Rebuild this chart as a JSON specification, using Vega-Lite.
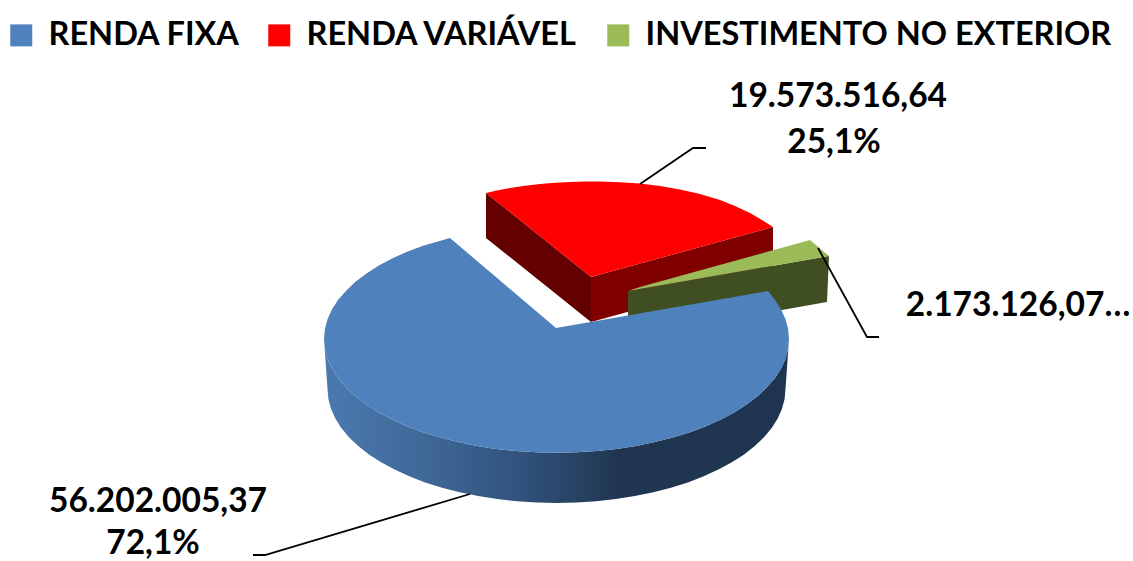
{
"$schema":"https://vega.github.io/schema/vega-lite/v6.json",
"width":1133,"height":561,
"autosize":"none",
"padding":0,
"background":"white",
"view":{"stroke":null},
"resolve":{"scale":{"color":"independent"}},
"datasets":{
"faces":[
{"face":"rv_esq","k":1,"x":486,"y":193},{"face":"rv_esq","k":2,"x":591,"y":277},{"face":"rv_esq","k":3,"x":591,"y":322},{"face":"rv_esq","k":4,"x":486,"y":238},
{"face":"rv_dir","k":1,"x":591,"y":277},{"face":"rv_dir","k":2,"x":773,"y":227},{"face":"rv_dir","k":3,"x":773,"y":272},{"face":"rv_dir","k":4,"x":591,"y":322},
{"face":"ie_fr","k":1,"x":628,"y":291},{"face":"ie_fr","k":2,"x":829,"y":256},{"face":"ie_fr","k":3,"x":827,"y":302},{"face":"ie_fr","k":4,"x":628,"y":337}
],
"side":[
{"k":1,"x":789,"y":339},{"k":1.5,"x":788.1,"y":348.9},{"k":2,"x":785.5,"y":358.8},{"k":2.5,"x":781.1,"y":368.5},{"k":3,"x":775,"y":377.9},{"k":3.5,"x":767.1,"y":387.1},{"k":4,"x":757.9,"y":395.9},{"k":4.5,"x":746.9,"y":404.3},{"k":5,"x":734.6,"y":412.2},{"k":5.5,"x":720.9,"y":419.5},{"k":6,"x":706,"y":426.2},{"k":6.5,"x":690,"y":432.2},{"k":7,"x":672.8,"y":437.6},{"k":7.5,"x":654.8,"y":442.1},{"k":8,"x":636,"y":446},{"k":8.5,"x":616.7,"y":448.9},{"k":9,"x":597,"y":451.1},{"k":9.5,"x":576.7,"y":452.3},{"k":10,"x":556.5,"y":452.8},{"k":10.5,"x":536.3,"y":452.3},{"k":11,"x":516,"y":451.1},{"k":11.5,"x":496.3,"y":448.9},{"k":12,"x":477,"y":446},{"k":12.5,"x":458.2,"y":442.1},{"k":13,"x":440.3,"y":437.6},{"k":13.5,"x":423,"y":432.2},{"k":14,"x":407,"y":426.2},{"k":14.5,"x":392.1,"y":419.5},{"k":15,"x":378.4,"y":412.2},{"k":15.5,"x":366.1,"y":404.3},{"k":16,"x":355.1,"y":395.9},{"k":16.5,"x":345.9,"y":387.1},{"k":17,"x":338,"y":377.9},{"k":17.5,"x":331.9,"y":368.5},{"k":18,"x":327.5,"y":358.8},{"k":18.5,"x":324.9,"y":348.9},{"k":19,"x":324,"y":339},
{"k":20,"x":327.5,"y":389},{"k":20.5,"x":328.4,"y":398.9},{"k":21,"x":331,"y":408.8},{"k":21.5,"x":335.3,"y":418.5},{"k":22,"x":341.3,"y":428},{"k":22.5,"x":349,"y":437.2},{"k":23,"x":358.2,"y":446},{"k":23.5,"x":368.9,"y":454.4},{"k":24,"x":381.1,"y":462.3},{"k":24.5,"x":394.6,"y":469.6},{"k":25,"x":409.3,"y":476.3},{"k":25.5,"x":425.1,"y":482.4},{"k":26,"x":442,"y":487.7},{"k":26.5,"x":459.6,"y":492.3},{"k":27,"x":478.2,"y":496.1},{"k":27.5,"x":497.2,"y":499.1},{"k":28,"x":516.7,"y":501.3},{"k":28.5,"x":536.6,"y":502.5},{"k":29,"x":556.5,"y":503},{"k":29.5,"x":576.4,"y":502.5},{"k":30,"x":596.3,"y":501.3},{"k":30.5,"x":615.8,"y":499.1},{"k":31,"x":634.8,"y":496.1},{"k":31.5,"x":653.4,"y":492.3},{"k":32,"x":671,"y":487.7},{"k":32.5,"x":687.9,"y":482.4},{"k":33,"x":703.7,"y":476.3},{"k":33.5,"x":718.4,"y":469.6},{"k":34,"x":731.9,"y":462.3},{"k":34.5,"x":744.1,"y":454.4},{"k":35,"x":754.8,"y":446},{"k":35.5,"x":764,"y":437.2},{"k":36,"x":771.7,"y":428},{"k":36.5,"x":777.7,"y":418.5},{"k":37,"x":782,"y":408.8},{"k":37.5,"x":784.6,"y":398.9},{"k":38,"x":785.5,"y":389}
],
"tops":[
{"serie":"RENDA VARIÁVEL","k":1,"x":591,"y":277},{"serie":"RENDA VARIÁVEL","k":2,"x":486,"y":193},{"serie":"RENDA VARIÁVEL","k":3,"x":498,"y":190.3},{"serie":"RENDA VARIÁVEL","k":4,"x":510,"y":188},{"serie":"RENDA VARIÁVEL","k":5,"x":525,"y":185.8},{"serie":"RENDA VARIÁVEL","k":6,"x":540,"y":184},{"serie":"RENDA VARIÁVEL","k":7,"x":555,"y":182.8},{"serie":"RENDA VARIÁVEL","k":8,"x":570,"y":182},{"serie":"RENDA VARIÁVEL","k":9,"x":585,"y":181.6},{"serie":"RENDA VARIÁVEL","k":10,"x":600,"y":181.5},{"serie":"RENDA VARIÁVEL","k":11,"x":620,"y":182.2},{"serie":"RENDA VARIÁVEL","k":12,"x":640,"y":183.5},{"serie":"RENDA VARIÁVEL","k":13,"x":660,"y":186},{"serie":"RENDA VARIÁVEL","k":14,"x":680,"y":189.5},{"serie":"RENDA VARIÁVEL","k":15,"x":700,"y":194},{"serie":"RENDA VARIÁVEL","k":16,"x":720,"y":200},{"serie":"RENDA VARIÁVEL","k":17,"x":735,"y":206},{"serie":"RENDA VARIÁVEL","k":18,"x":750,"y":213},{"serie":"RENDA VARIÁVEL","k":19,"x":762,"y":220},{"serie":"RENDA VARIÁVEL","k":20,"x":773,"y":227},
{"serie":"INVESTIMENTO NO EXTERIOR","k":1,"x":628,"y":291},{"serie":"INVESTIMENTO NO EXTERIOR","k":2,"x":640,"y":287},{"serie":"INVESTIMENTO NO EXTERIOR","k":3,"x":810,"y":240},{"serie":"INVESTIMENTO NO EXTERIOR","k":4,"x":829,"y":256},
{"serie":"RENDA FIXA","k":1,"x":556,"y":328},{"serie":"RENDA FIXA","k":2,"x":450,"y":238},{"serie":"RENDA FIXA","k":2.5,"x":423,"y":245.8},{"serie":"RENDA FIXA","k":3,"x":407,"y":251.8},{"serie":"RENDA FIXA","k":3.5,"x":392.1,"y":258.5},{"serie":"RENDA FIXA","k":4,"x":378.4,"y":265.8},{"serie":"RENDA FIXA","k":4.5,"x":366.1,"y":273.7},{"serie":"RENDA FIXA","k":5,"x":355.1,"y":282.1},{"serie":"RENDA FIXA","k":5.5,"x":345.9,"y":290.9},{"serie":"RENDA FIXA","k":6,"x":338,"y":300.1},{"serie":"RENDA FIXA","k":6.5,"x":331.9,"y":309.5},{"serie":"RENDA FIXA","k":7,"x":327.5,"y":319.2},{"serie":"RENDA FIXA","k":7.5,"x":324.9,"y":329.1},{"serie":"RENDA FIXA","k":8,"x":324,"y":339},{"serie":"RENDA FIXA","k":8.5,"x":324.9,"y":348.9},{"serie":"RENDA FIXA","k":9,"x":327.5,"y":358.8},{"serie":"RENDA FIXA","k":9.5,"x":331.9,"y":368.5},{"serie":"RENDA FIXA","k":10,"x":338,"y":377.9},{"serie":"RENDA FIXA","k":10.5,"x":345.9,"y":387.1},{"serie":"RENDA FIXA","k":11,"x":355.1,"y":395.9},{"serie":"RENDA FIXA","k":11.5,"x":366.1,"y":404.3},{"serie":"RENDA FIXA","k":12,"x":378.4,"y":412.2},{"serie":"RENDA FIXA","k":12.5,"x":392.1,"y":419.5},{"serie":"RENDA FIXA","k":13,"x":407,"y":426.2},{"serie":"RENDA FIXA","k":13.5,"x":423,"y":432.2},{"serie":"RENDA FIXA","k":14,"x":440.3,"y":437.6},{"serie":"RENDA FIXA","k":14.5,"x":458.2,"y":442.1},{"serie":"RENDA FIXA","k":15,"x":477,"y":446},{"serie":"RENDA FIXA","k":15.5,"x":496.3,"y":448.9},{"serie":"RENDA FIXA","k":16,"x":516,"y":451.1},{"serie":"RENDA FIXA","k":16.5,"x":536.3,"y":452.3},{"serie":"RENDA FIXA","k":17,"x":556.5,"y":452.8},{"serie":"RENDA FIXA","k":17.5,"x":576.7,"y":452.3},{"serie":"RENDA FIXA","k":18,"x":597,"y":451.1},{"serie":"RENDA FIXA","k":18.5,"x":616.7,"y":448.9},{"serie":"RENDA FIXA","k":19,"x":636,"y":446},{"serie":"RENDA FIXA","k":19.5,"x":654.8,"y":442.1},{"serie":"RENDA FIXA","k":20,"x":672.8,"y":437.6},{"serie":"RENDA FIXA","k":20.5,"x":690,"y":432.2},{"serie":"RENDA FIXA","k":21,"x":706,"y":426.2},{"serie":"RENDA FIXA","k":21.5,"x":720.9,"y":419.5},{"serie":"RENDA FIXA","k":22,"x":734.6,"y":412.2},{"serie":"RENDA FIXA","k":22.5,"x":746.9,"y":404.3},{"serie":"RENDA FIXA","k":23,"x":757.9,"y":395.9},{"serie":"RENDA FIXA","k":23.5,"x":767.1,"y":387.1},{"serie":"RENDA FIXA","k":24,"x":775,"y":377.9},{"serie":"RENDA FIXA","k":24.5,"x":781.1,"y":368.5},{"serie":"RENDA FIXA","k":25,"x":785.5,"y":358.8},{"serie":"RENDA FIXA","k":25.5,"x":788.1,"y":348.9},{"serie":"RENDA FIXA","k":26,"x":789,"y":339},{"serie":"RENDA FIXA","k":26.5,"x":788.1,"y":329.1},{"serie":"RENDA FIXA","k":27,"x":785.5,"y":319.2},{"serie":"RENDA FIXA","k":27.5,"x":781.1,"y":309.5},{"serie":"RENDA FIXA","k":28,"x":775,"y":300.1},{"serie":"RENDA FIXA","k":29,"x":768,"y":291}
],
"leaders":[
{"serie":"RENDA VARIÁVEL","k":1,"x":640,"y":184},{"serie":"RENDA VARIÁVEL","k":2,"x":693,"y":148},{"serie":"RENDA VARIÁVEL","k":3,"x":706,"y":148},
{"serie":"INVESTIMENTO NO EXTERIOR","k":1,"x":818,"y":248},{"serie":"INVESTIMENTO NO EXTERIOR","k":2,"x":867,"y":337},{"serie":"INVESTIMENTO NO EXTERIOR","k":3,"x":879,"y":337},
{"serie":"RENDA FIXA","k":1,"x":470,"y":494},{"serie":"RENDA FIXA","k":2,"x":265,"y":555},{"serie":"RENDA FIXA","k":3,"x":253,"y":555}
],
"labels":[
{"texto":"19.573.516,64","x":838,"y":97},{"texto":"25,1%","x":834,"y":143},
{"texto":"2.173.126,07…","x":1018,"y":306},
{"texto":"56.202.005,37","x":158,"y":502},{"texto":"72,1%","x":153,"y":544}
]
},
"encoding":{
"x":{"field":"x","type":"quantitative","scale":{"domain":[0,1133],"nice":false,"zero":false},"axis":null},
"y":{"field":"y","type":"quantitative","scale":{"domain":[0,561],"reverse":true,"nice":false,"zero":false},"axis":null}
},
"layer":[
{"data":{"name":"faces"},
"mark":{"type":"line","filled":true,"strokeWidth":0},
"encoding":{"order":{"field":"k"},"color":{"field":"face","type":"nominal","legend":null,"scale":{"domain":["rv_esq","rv_dir","ie_fr"],"range":["#640000","#800000","#3f4f22"]}}}},
{"data":{"name":"side"},
"mark":{"type":"line","filled":true,"strokeWidth":0,"fill":{"gradient":"linear","x1":0,"y1":0,"x2":1,"y2":0,"stops":[{"offset":0,"color":"#4b79b0"},{"offset":0.22,"color":"#3f6897"},{"offset":0.44,"color":"#30507a"},{"offset":0.63,"color":"#203650"},{"offset":1,"color":"#1f3450"}]}},
"encoding":{"order":{"field":"k"}}},
{"data":{"name":"tops"},
"mark":{"type":"line","filled":true,"strokeWidth":0},
"encoding":{"order":{"field":"k"},"color":{"field":"serie","type":"nominal","scale":{"domain":["RENDA FIXA","RENDA VARIÁVEL","INVESTIMENTO NO EXTERIOR"],"range":["#4f81bd","#ff0000","#9bbb59"]},
"legend":{"title":null,"orient":"none","legendX":5,"legendY":19,"direction":"horizontal","columns":3,"columnPadding":23,"padding":0,"symbolType":"square","symbolSize":484,"symbolStrokeWidth":0,"symbolOpacity":1,"labelFont":"Lato","labelFontWeight":"bold","labelFontSize":32.5,"labelColor":"#000000","labelOffset":11,"labelLimit":600}}}},
{"data":{"name":"leaders"},
"mark":{"type":"line","color":"#000000","strokeWidth":1.8},
"encoding":{"order":{"field":"k"},"detail":{"field":"serie"}}},
{"data":{"name":"labels"},
"mark":{"type":"text","font":"Lato","fontWeight":"bold","fontSize":33.5,"color":"#000000","align":"center","baseline":"middle"},
"encoding":{"text":{"field":"texto"}}}
]
}
